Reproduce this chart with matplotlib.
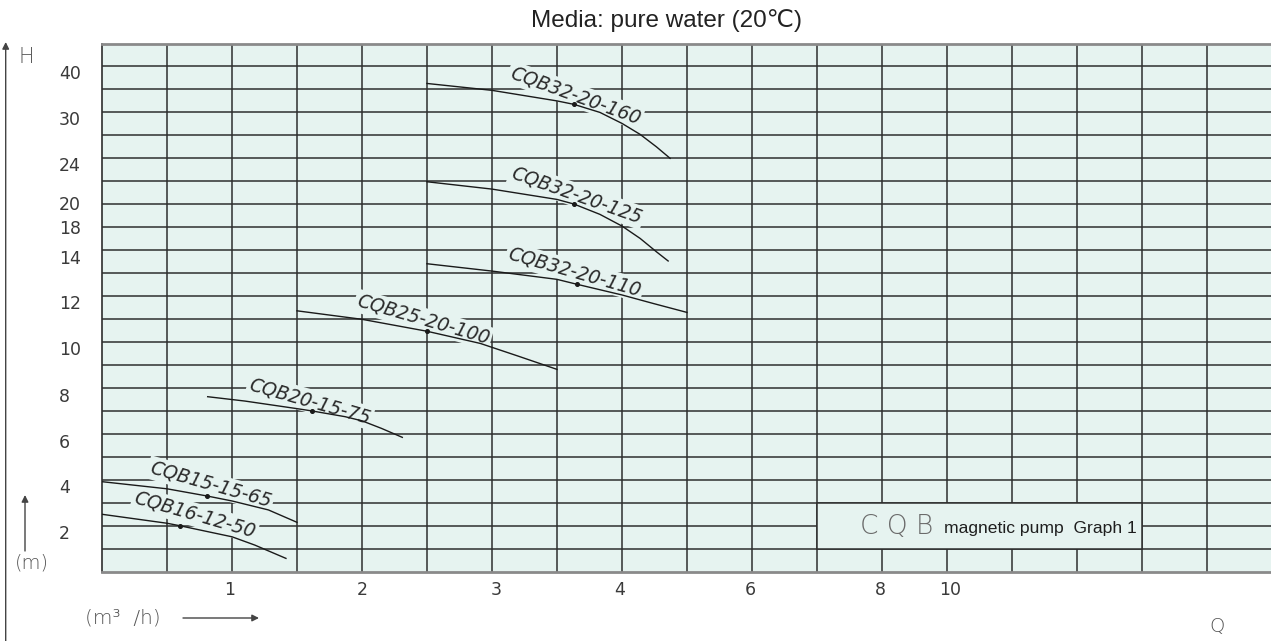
import numpy as np
import matplotlib
matplotlib.use("Agg")
import matplotlib.pyplot as plt
from matplotlib.patches import Rectangle

# ---- data (chart grid units: x = Q grid column, y = H grid row) ----
q_tick_pos = [1.965, 4.0, 6.06, 7.97, 9.97, 11.98, 13.05]
q_tick_labels = ["1", "2", "3", "4", "6", "8", "10"]
h_tick_pos = [1.74, 3.74, 5.69, 7.69, 9.73, 11.74, 13.70, 15.01, 16.05, 17.75, 19.75, 21.75]
h_tick_labels = ["2", "4", "6", "8", "10", "12", "14", "18", "20", "24", "30", "40"]

pump_names = ["CQB32-20-160", "CQB32-20-125", "CQB32-20-110", "CQB25-20-100",
              "CQB20-15-75", "CQB15-15-65", "CQB16-12-50"]
curve_q = [
    [5.0, 6.0, 7.0, 7.26, 7.66, 8.0, 8.28, 8.53, 8.74],
    [5.0, 6.0, 7.0, 7.26, 7.66, 8.0, 8.28, 8.53, 8.71],
    [5.0, 6.0, 7.0, 7.30, 8.0, 8.48, 9.0],
    [3.0, 4.0, 5.0, 5.82, 6.40, 7.0],
    [1.626, 2.2, 3.0, 3.23, 3.74, 4.0, 4.30, 4.62],
    [0.0, 1.0, 1.61, 2.0, 2.56, 3.0],
    [0.0, 1.0, 1.2, 2.0, 2.35, 2.83],
]
curve_h = [
    [21.26, 20.96, 20.50, 20.35, 20.0, 19.52, 19.04, 18.50, 18.0],
    [16.98, 16.66, 16.21, 16.01, 15.56, 15.05, 14.51, 13.93, 13.53],
    [13.41, 13.09, 12.73, 12.52, 12.05, 11.68, 11.29],
    [11.36, 10.99, 10.47, 9.94, 9.39, 8.81],
    [7.62, 7.43, 7.10, 7.0, 6.75, 6.57, 6.24, 5.85],
    [3.92, 3.61, 3.30, 3.08, 2.69, 2.15],
    [2.50, 2.11, 2.00, 1.52, 1.16, 0.58],
]
rated_q = [7.26, 7.26, 7.30, 5.0, 3.23, 1.61, 1.2]
rated_h = [20.35, 16.01, 12.52, 10.47, 7.0, 3.30, 2.00]
label_q = [7.28, 7.30, 7.27, 4.94, 3.20, 1.67, 1.43]
label_h = [20.74, 16.39, 13.05, 10.98, 7.43, 3.80, 2.48]
label_angle = [-19.9, -19.5, -15.9, -16.2, -15.9, -15.9, -16.1]

# ---- style ----
W, H = 1271, 641
bg = "#e6f3f0"
grid_c = "#2e2e2e"
txt_c = "#3a3a3a"
x0_px, top_px, bot_px, col_px = 102, 43.5, 571.7, 65.0
n_rows = 23

fig = plt.figure(figsize=(W / 100, H / 100), dpi=100)
ax = fig.add_axes([x0_px / W, 1 - bot_px / H, 1 - x0_px / W, (bot_px - top_px) / H])
ax.set_xlim(0, (W - x0_px) / col_px)
ax.set_ylim(0, n_rows)
ax.set_facecolor(bg)
ax.spines["right"].set_visible(False)
ax.spines["left"].set_color(grid_c)
ax.spines["left"].set_linewidth(1.2)
for s in ["top", "bottom"]:
    ax.spines[s].set_color("#8a8a8a")
    ax.spines[s].set_linewidth(2.0)

# grid
for i in range(1, 18):
    ax.axvline(i, color=grid_c, lw=1.1, zorder=1)
for j in range(1, n_rows):
    ax.axhline(j, color=grid_c, lw=1.1, zorder=1)

# title box
ax.add_patch(Rectangle((11, 1), 5, 2, facecolor=bg, edgecolor=grid_c, lw=1.1, zorder=1.5))
ax.text(11.66, 1.62, "C Q B", fontsize=19, color="#6a6a6a", fontweight="light",
        ha="left", va="baseline", zorder=4)
ax.text(12.95, 1.67, "magnetic pump  Graph 1", fontsize=12.6,
        family=["Liberation Sans Narrow", "Liberation Sans", "DejaVu Sans"],
        color="#1e1e1e", ha="left", va="baseline", zorder=4)

# curves
for i, name in enumerate(pump_names):
    ax.plot(curve_q[i], curve_h[i], color="#1a1a1a", lw=1.0, zorder=3)
    ax.text(label_q[i], label_h[i], name, rotation=label_angle[i], rotation_mode="anchor",
            ha="center", va="center", fontsize=13.5, style="italic", color="#2a2a2a",
            zorder=2,
            bbox=dict(boxstyle="square,pad=0.12", facecolor=bg, edgecolor="none"))
ax.plot(rated_q, rated_h, linestyle="none", marker="o", ms=2.6, color="#1a1a1a", zorder=3.5)

# ticks
ax.set_xticks(q_tick_pos, q_tick_labels)
ax.set_yticks(h_tick_pos, h_tick_labels)
ax.tick_params(axis="x", length=0, pad=7, labelsize=12.5, labelcolor=txt_c)
ax.tick_params(axis="y", length=0, pad=31, labelsize=12.5, labelcolor=txt_c)
for lbl in ax.get_yticklabels():
    lbl.set_horizontalalignment("left")

# outside decorations (figure pixels, top-left origin converted)
def fp(x, y):
    return (x, H - y)

arrow = dict(arrowstyle="-|>", color="#444444", lw=1.0, mutation_scale=10, shrinkA=0, shrinkB=0)
ax.annotate("", xy=fp(5.7, 42), xytext=fp(5.7, 641), xycoords="figure pixels",
            textcoords="figure pixels", arrowprops=arrow, annotation_clip=False)
ax.annotate("", xy=fp(25, 495), xytext=fp(25, 551), xycoords="figure pixels",
            textcoords="figure pixels", arrowprops=arrow, annotation_clip=False)
ax.annotate("", xy=fp(259, 618), xytext=fp(183, 618), xycoords="figure pixels",
            textcoords="figure pixels", arrowprops=arrow, annotation_clip=False)

fig.text(26 / W, 1 - 57 / H, "H", fontsize=15, color="#555555", fontweight="light",
         ha="center", va="center")
fig.text(32 / W, 1 - 563 / H, "(m)", fontsize=14, color="#555555", fontweight="light",
         ha="center", va="center")
fig.text(123 / W, 1 - 618 / H, "(m³  /h)", fontsize=14.5, color="#555555", fontweight="light",
         ha="center", va="center")
fig.text(1217 / W, 1 - 627 / H, "Q", fontsize=14, color="#555555", fontweight="light",
         ha="center", va="center")
fig.text(666 / W, 1 - 21 / H, "Media: pure water (20℃)", fontsize=17.5,
         family=["Liberation Sans", "DejaVu Sans"], color="#222222",
         ha="center", va="center")

fig.savefig("out.png", dpi=100, facecolor="white")
